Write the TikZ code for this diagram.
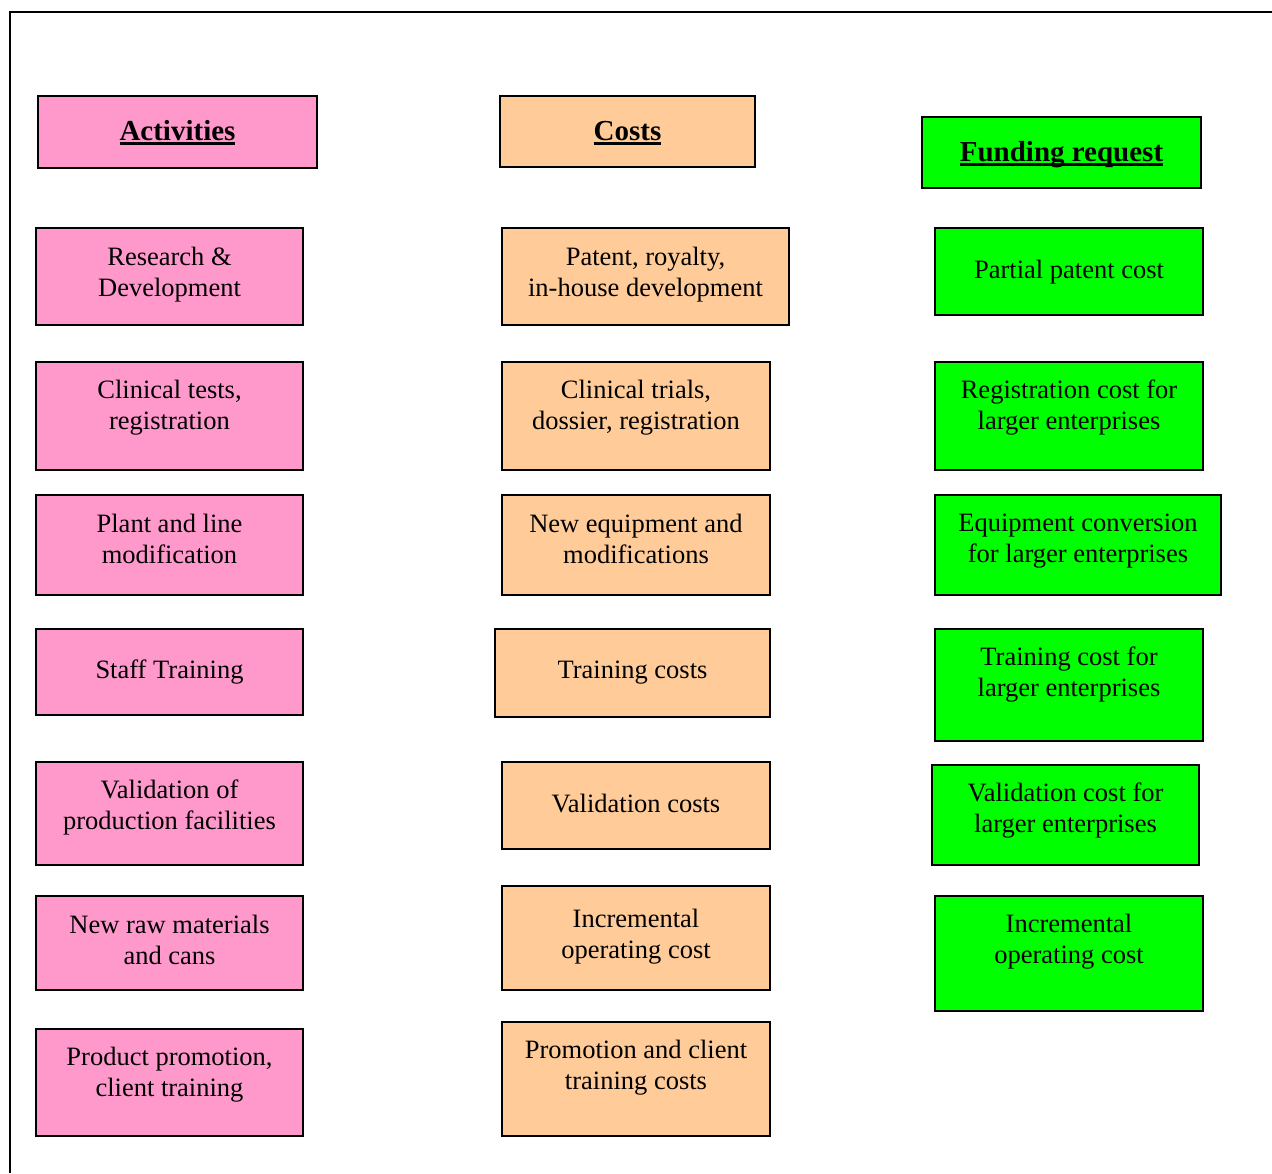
\documentclass[tikz,border=0pt]{standalone}
\usepackage{fontspec}
\setmainfont{Liberation Serif}
\newcommand\headul[1]{\setbox0\hbox{#1}\rlap{\rule[-4.5pt]{\wd0}{2.6pt}}\box0}
\definecolor{actpink}{HTML}{FF99CC}
\definecolor{costtan}{HTML}{FFCC99}
\definecolor{fundgreen}{HTML}{00FF00}
\tikzset{
  box/.style={draw=black, line width=2pt, inner sep=0pt, outer sep=0pt, anchor=north west},
  actbox/.style={box, fill=actpink},
  costbox/.style={box, fill=costtan},
  fundbox/.style={box, fill=fundgreen},
  % two-line texts are placed by the baseline of their last line
  txt/.style={align=center, inner sep=0pt, anchor=base, font=\fontsize{26.5}{31}\selectfont},
  head/.style={inner sep=0pt, anchor=base, font=\fontsize{29}{34}\selectfont\bfseries},
}
\begin{document}
\begin{tikzpicture}[x=1pt, y=-1pt]
\useasboundingbox (0,0) rectangle (1272,1173);
% open frame along the top and left edges
\draw[line width=2pt] (10,1173) -- (10,12) -- (1272,12);

% ---------- column headings ----------
\node[actbox, minimum width=279, minimum height=72] (acth) at (38,96) {};
\node[head] (actht) at (177.5,140) {\headul{Activities}};
\node[costbox, minimum width=255, minimum height=71] (costh) at (500,96) {};
\node[head] (costht) at (627.5,140) {\headul{Costs}};
\node[fundbox, minimum width=279, minimum height=71] (fundh) at (922,117) {};
\node[head] (fundht) at (1061.5,161) {\headul{Funding request}};

% ---------- activities ----------
\node[actbox, minimum width=267, minimum height=97] (a1) at (36,228) {};
\node[txt] (a1t) at (169.5,296) {Research \&\\Development};
\node[actbox, minimum width=267, minimum height=108] (a2) at (36,362) {};
\node[txt] (a2t) at (169.5,429) {Clinical tests,\\registration};
\node[actbox, minimum width=267, minimum height=100] (a3) at (36,495) {};
\node[txt] (a3t) at (169.5,563) {Plant and line\\modification};
\node[actbox, minimum width=267, minimum height=86] (a4) at (36,629) {};
\node[txt] (a4t) at (169.5,678) {Staff Training};
\node[actbox, minimum width=267, minimum height=103] (a5) at (36,762) {};
\node[txt] (a5t) at (169.5,829) {Validation of\\production facilities};
\node[actbox, minimum width=267, minimum height=94] (a6) at (36,896) {};
\node[txt] (a6t) at (169.5,964) {New raw materials\\and cans};
\node[actbox, minimum width=267, minimum height=107] (a7) at (36,1029) {};
\node[txt] (a7t) at (169.5,1096) {Product promotion,\\client training};

% ---------- costs ----------
\node[costbox, minimum width=287, minimum height=97] (c1) at (502,228) {};
\node[txt] (c1t) at (645.5,296) {Patent, royalty,\\in-house development};
\node[costbox, minimum width=268, minimum height=108] (c2) at (502,362) {};
\node[txt] (c2t) at (636,429) {Clinical trials,\\dossier, registration};
\node[costbox, minimum width=268, minimum height=100] (c3) at (502,495) {};
\node[txt] (c3t) at (636,563) {New equipment and\\modifications};
\node[costbox, minimum width=275, minimum height=88] (c4) at (495,629) {};
\node[txt] (c4t) at (632.5,678) {Training costs};
\node[costbox, minimum width=268, minimum height=87] (c5) at (502,762) {};
\node[txt] (c5t) at (636,812) {Validation costs};
\node[costbox, minimum width=268, minimum height=104] (c6) at (502,886) {};
\node[txt] (c6t) at (636,958) {Incremental\\operating cost};
\node[costbox, minimum width=268, minimum height=114] (c7) at (502,1022) {};
\node[txt] (c7t) at (636,1089) {Promotion and client\\training costs};

% ---------- funding request ----------
\node[fundbox, minimum width=268, minimum height=87] (f1) at (935,228) {};
\node[txt] (f1t) at (1069,278) {Partial patent cost};
\node[fundbox, minimum width=268, minimum height=108] (f2) at (935,362) {};
\node[txt] (f2t) at (1069,429) {Registration cost for\\larger enterprises};
\node[fundbox, minimum width=286, minimum height=100] (f3) at (935,495) {};
\node[txt] (f3t) at (1078,562) {Equipment conversion\\for larger enterprises};
\node[fundbox, minimum width=268, minimum height=112] (f4) at (935,629) {};
\node[txt] (f4t) at (1069,696) {Training cost for\\larger enterprises};
\node[fundbox, minimum width=267, minimum height=100] (f5) at (932,765) {};
\node[txt] (f5t) at (1065.5,832) {Validation cost for\\larger enterprises};
\node[fundbox, minimum width=268, minimum height=115] (f6) at (935,896) {};
\node[txt] (f6t) at (1069,963) {Incremental\\operating cost};
\end{tikzpicture}
\end{document}
